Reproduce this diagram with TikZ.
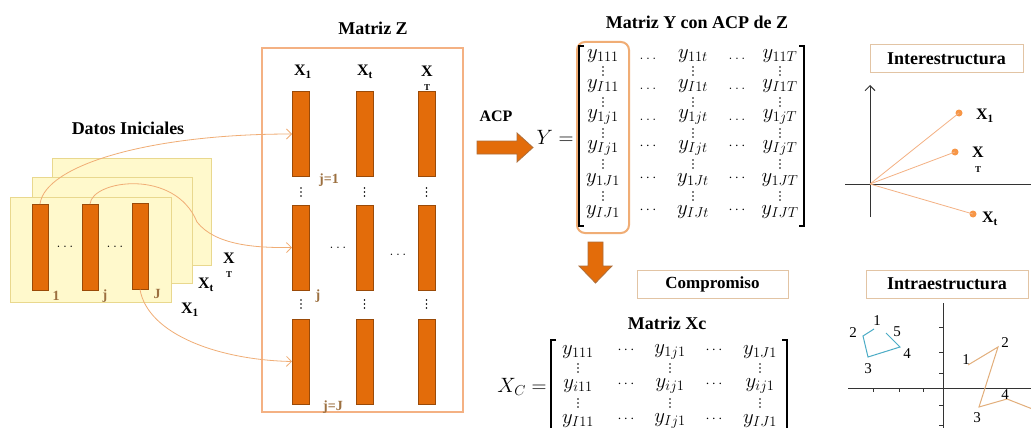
\documentclass[tikz,border=0pt]{standalone}
\usepackage{fontspec}
\setmainfont{Liberation Serif}
\usetikzlibrary{arrows.meta}
\definecolor{layerfill}{HTML}{FFF9CC}
\definecolor{layerdraw}{HTML}{E9D88E}
\definecolor{barfill}{HTML}{E36C0A}
\definecolor{bardraw}{HTML}{9A4A08}
\definecolor{zbox}{HTML}{F4B183}
\definecolor{conn}{HTML}{F0AD75}
\definecolor{lbl}{HTML}{9C7040}
\definecolor{tanb}{HTML}{E2C4A4}
\definecolor{ptc}{HTML}{F79646}
\definecolor{bluep}{HTML}{4BACC6}
\definecolor{intral}{HTML}{E2AE7A}
\definecolor{axc}{HTML}{333333}
\newcommand\vdts[2]{\foreach \dd in {-4,0,4}{\fill ({#1},{#2+\dd}) circle (0.85);}}
\begin{document}
\begin{tikzpicture}[x=1pt,y=-1pt,
  bar/.style={draw=bardraw,fill=barfill,line width=1pt,minimum width=16pt,minimum height=86pt,inner sep=0pt},
  zbar/.style={bar,minimum width=17pt,minimum height=85pt},
  layer/.style={draw=layerdraw,fill=layerfill,line width=1pt},
  ttl/.style={font=\fontsize{18}{21}\selectfont\bfseries,inner sep=0pt},
  ttls/.style={font=\fontsize{17}{20}\selectfont\bfseries,inner sep=0pt},
  xl/.style={font=\fontsize{16}{18}\selectfont\bfseries,inner sep=0pt},
  tl/.style={font=\fontsize{9}{10}\selectfont\bfseries,inner sep=0pt},
  nl/.style={font=\fontsize{14}{16}\selectfont\bfseries,text=lbl,inner sep=0pt},
  ent/.style={font=\fontsize{20}{22}\selectfont,inner sep=0pt},
  hd/.style={font=\fontsize{15}{16}\selectfont,inner sep=0pt},
  conn/.style={draw=conn,line width=0.8pt,-{Straight Barb[length=5pt,width=10pt]}},
  tbox/.style={draw=tanb,fill=white,line width=1pt},
  brk/.style={line width=1.1pt},
  pt/.style={circle,fill=ptc,inner sep=0pt,minimum size=7pt},
  blk/.style={fill=barfill,draw=bardraw!80,line width=0.8pt},
  ilbl/.style={font=\fontsize{15}{16}\selectfont,inner sep=0pt}
]
\useasboundingbox (0,0) rectangle (1031,428);
\clip (0,0) rectangle (1031,428);
\fill[white] (0,0) rectangle (1031,428);

% ---------- Datos iniciales ----------
\node[ttl] (datos) at (128,128) {Datos Iniciales};
\draw[layer] (52,158) rectangle (211,265);
\draw[layer] (32,177) rectangle (192,283);
\draw[layer] (10,197) rectangle (171,302);
\node[bar] (f1) at (40,247.5) {};
\node[bar] (fj) at (90,247.5) {};
\node[bar] (fJ) at (140,246) {};
\node[hd] (fd1) at (65,247) {$\ldots$};
\node[hd] (fd2) at (115,247) {$\ldots$};
\node[nl] (n1) at (56,296) {1};
\node[nl] (nj) at (105,296) {j};
\node[nl] (nJ) at (157,294) {J};
\node[xl] (lX1) at (190,310) {X\textsubscript{1}};
\node[xl] (lXt) at (206,285) {X\textsubscript{t}};
\node[xl] (lXT) at (229,258) {X};
\node[tl] (lXTs) at (229,275) {T};

% ---------- Matriz Z ----------
\node[ttl] (mz) at (373,28) {Matriz Z};
\draw[draw=zbox,line width=2.5pt] (262,48) rectangle (463,412);
\node[xl] (h1) at (303,72) {X\textsubscript{1}};
\node[xl] (h2) at (365,72) {X\textsubscript{t}};
\node[xl] (h3) at (427,71) {X};
\foreach \c/\x in {1/301,2/364.5,3/426.5}{
  \foreach \r/\y in {1/134,2/247.5,3/361.5}{
    \node[zbar] (z\r\c) at (\x,\y) {};
  }
  \vdts{\x}{192}
  \vdts{\x}{304}
}
\node[tl] (h3s) at (427,88) {T};
\node[font=\fontsize{14}{16}\selectfont\bfseries,text=lbl,inner sep=0pt] (j1) at (329,180) {j=1};
\node[nl] (jj) at (318,296) {j};
\node[font=\fontsize{14}{16}\selectfont\bfseries,text=lbl,inner sep=0pt] (jJ) at (333,407) {j=J};
\node[hd] (zd1) at (338,248) {$\ldots$};
\node[hd] (zd2) at (398,255) {$\ldots$};

% connectors
\draw[conn] (f1.north) .. controls (45,165) and (150,134) .. (z11.west);
\draw[conn] (fj.north) .. controls (92,180) and (175,168) .. (197,222)
             .. controls (215,245) and (255,248) .. (z21.west);
\draw[conn] (fJ.south) .. controls (148,335) and (220,360) .. (z31.west);

% ---------- ACP arrow ----------
\node[font=\fontsize{16}{18}\selectfont\bfseries,inner sep=0pt] (acp) at (496,116) {ACP};
\draw[blk] (477,141) -- (517,141) -- (517,133) -- (533,147.5) -- (517,162) -- (517,154) -- (477,154) -- cycle;

% ---------- Matriz Y ----------
\node[ttl] (my) at (697,22) {Matriz Y con ACP de Z};
\node[ent] (yeq) at (555,137) {$Y=$};
\draw[draw=conn,line width=2pt,rounded corners=8pt] (577,42) rectangle (629,233);
\draw[brk] (584,46) -- (579,46) -- (579,226) -- (584,226);
\draw[brk] (799,46) -- (804,46) -- (804,226) -- (799,226);
\node[ent] (a11) at (603,56) {$y_{111}$};
\node[ent] (a12) at (693,56) {$y_{11t}$};
\node[ent] (a13) at (780,56) {$y_{11T}$};
\node[ent] (a21) at (603,86) {$y_{I11}$};
\node[ent] (a22) at (693,86) {$y_{I1t}$};
\node[ent] (a23) at (780,86) {$y_{I1T}$};
\node[ent] (a31) at (603,117) {$y_{1j1}$};
\node[ent] (a32) at (693,117) {$y_{1jt}$};
\node[ent] (a33) at (780,117) {$y_{1jT}$};
\node[ent] (a41) at (603,148) {$y_{Ij1}$};
\node[ent] (a42) at (693,148) {$y_{Ijt}$};
\node[ent] (a43) at (780,148) {$y_{IjT}$};
\node[ent] (a51) at (603,180) {$y_{1J1}$};
\node[ent] (a52) at (693,180) {$y_{1Jt}$};
\node[ent] (a53) at (780,180) {$y_{1JT}$};
\node[ent] (a61) at (603,212) {$y_{IJ1}$};
\node[ent] (a62) at (693,212) {$y_{IJt}$};
\node[ent] (a63) at (780,212) {$y_{IJT}$};
\foreach \y in {71,102,133,164,196}{
  \vdts{603}{\y}
  \vdts{693}{\y}
  \vdts{780}{\y}
}
\foreach \y [count=\k] in {59,89,120}{
  \node[hd] (ah\k a) at (648,\y) {$\ldots$};
  \node[hd] (ah\k b) at (737,\y) {$\ldots$};
}
\foreach \y [count=\k] in {146,178,210}{
  \node[hd] (ac\k a) at (648,\y) {$\cdots$};
  \node[hd] (ac\k b) at (737,\y) {$\cdots$};
}

% ---------- down arrow ----------
\draw[blk] (588,242) -- (603,242) -- (603,266) -- (612,266) -- (595.5,283) -- (579,266) -- (588,266) -- cycle;

% ---------- Compromiso ----------
\draw[tbox] (637,270) rectangle (788,298);
\node[ttls] (comp) at (712.5,284) {Compromiso};

% ---------- Matriz Xc ----------
\node[ttl] (mxc) at (667,323) {Matriz Xc};
\node[ent] (xeq) at (522,387) {$X_C=$};
\draw[brk] (556,340) -- (551,340) -- (551,440) -- (556,440);
\draw[brk] (782,340) -- (787,340) -- (787,440) -- (782,440);
\node[ent] (c11) at (578,352) {$y_{111}$};
\node[ent] (c12) at (670,352) {$y_{1j1}$};
\node[ent] (c13) at (760,352) {$y_{1J1}$};
\node[ent] (c21) at (578,386) {$y_{i11}$};
\node[ent] (c22) at (670,386) {$y_{ij1}$};
\node[ent] (c23) at (760,386) {$y_{ij1}$};
\node[ent] (c31) at (578,421) {$y_{I11}$};
\node[ent] (c32) at (670,421) {$y_{Ij1}$};
\node[ent] (c33) at (760,421) {$y_{IJ1}$};
\foreach \y in {368,403}{
  \vdts{578}{\y}
  \vdts{670}{\y}
  \vdts{760}{\y}
}
\foreach \y [count=\k] in {350,384,419}{
  \node[hd] (ch\k a) at (626,\y) {$\cdots$};
  \node[hd] (ch\k b) at (714,\y) {$\cdots$};
}

% ---------- Interestructura ----------
\draw[tbox] (870,45) rectangle (1023,73);
\node[ttl] (inter) at (946.5,59) {Interestructura};
\coordinate (o1) at (870,184);
\coordinate (vt) at (870,85);
\coordinate (vb) at (870,217);
\coordinate (hl) at (845,184);
\coordinate (hr) at (1035,184);
\draw[axc,line width=1pt,-{Straight Barb[length=5pt,width=10pt]}] (vb) -- (vt);
\draw[axc,line width=1pt] (hl) -- (hr);
\node[pt] (p1) at (959,113) {};
\node[pt] (pT) at (955,152) {};
\node[pt] (pt) at (973,214) {};
\draw[draw=zbox,line width=0.8pt] (o1) -- (p1.center);
\draw[draw=zbox,line width=0.8pt] (o1) -- (pT.center);
\draw[draw=zbox,line width=0.8pt] (o1) -- (pt.center);
\node[xl] (iX1) at (985,116) {X\textsubscript{1}};
\node[xl] (iXT) at (978,152) {X};
\node[tl] (iXTs) at (978,170) {T};
\node[xl] (iXt) at (990,219) {X\textsubscript{t}};

% ---------- Intraestructura ----------
\draw[tbox] (866,270) rectangle (1028,298);
\node[ttl] (intra) at (947,284) {Intraestructura};
\draw[axc,line width=1pt] (943,303) -- (943,430);
\draw[axc,line width=1pt] (848,388) -- (1035,388);
\foreach \x in {873,899,923}{\draw[axc,line width=0.8pt] (\x,388) -- (\x,392);}
\foreach \y in {327,352,373,405,425}{\draw[axc,line width=0.8pt] (943,\y) -- (939,\y);}
\draw[bluep,line width=1pt] (874,329) -- (863,336) -- (868,357) -- (900,347) -- (886,333);
\node[ilbl] (b1) at (877,321) {1};
\node[ilbl] (b2) at (853,333) {2};
\node[ilbl] (b3) at (868,369) {3};
\node[ilbl] (b4) at (907,354) {4};
\node[ilbl] (b5) at (897,332) {5};
\draw[intral,line width=1pt] (968,365) -- (998,347) -- (979,407) -- (1007,399) -- (1035,410);
\node[ilbl] (o1l) at (966,360) {1};
\node[ilbl] (o2l) at (1005,343) {2};
\node[ilbl] (o3l) at (977,418) {3};
\node[ilbl] (o4l) at (1005,395) {4};
\node[ilbl] (o5l) at (1034,410) {5};
\end{tikzpicture}
\end{document}
